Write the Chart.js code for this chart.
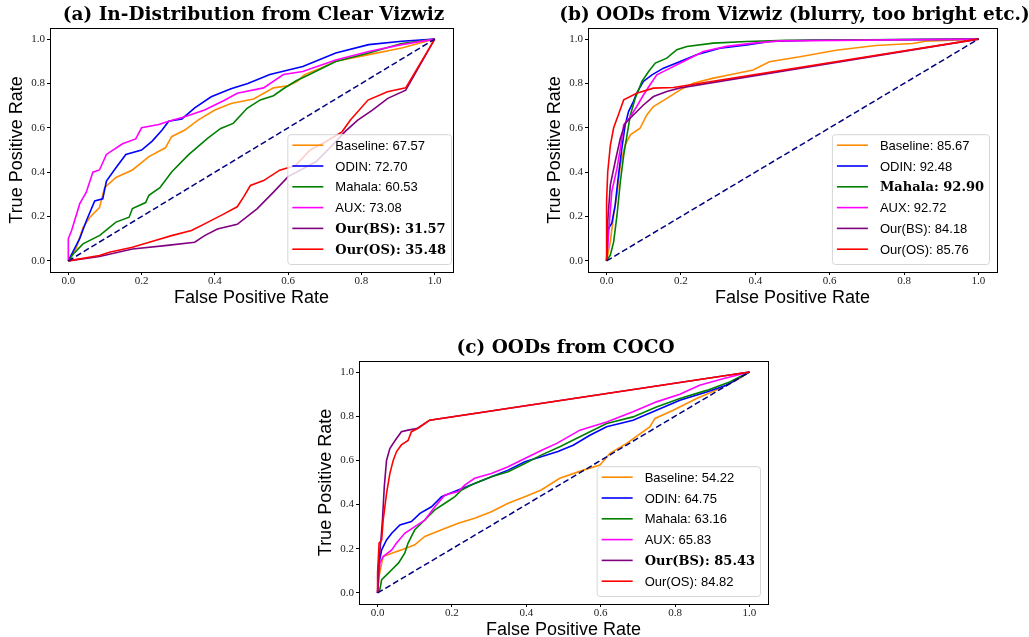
<!DOCTYPE html>
<html lang="en">
<head>
  <meta charset="UTF-8" />
  <title>ROC curves</title>
  <script src="https://cdn.jsdelivr.net/npm/chart.js"></script>
  <style>
    html, body { margin: 0; padding: 0; background: #fff; overflow: hidden; }
    body { width: 1029px; height: 637px; position: relative; }
    .panel { position: absolute; }
  </style>
</head>
<body>
  <div class="panel" style="left:0;top:0;width:470px;height:310px"><canvas id="chartA"></canvas></div>
  <div class="panel" style="left:538px;top:0;width:491px;height:310px"><canvas id="chartB"></canvas></div>
  <div class="panel" style="left:309px;top:333px;width:480px;height:309px"><canvas id="chartC"></canvas></div>

<script>
  // tick values (both axes)
  const axisTicks = [0, 0.2, 0.4, 0.6, 0.8, 1.0];

  const methodNames = ["Baseline", "ODIN", "Mahala", "AUX", "Our(BS)", "Our(OS)"];
  const methodColors = ["#ff8c00", "#0000ff", "#008000", "#ff00ff", "#800080", "#ff0000"];

  // AUROC scores shown in each legend
  const scoresA = ["67.57", "72.70", "60.53", "73.08", "31.57", "35.48"];
  const scoresB = ["85.67", "92.48", "92.90", "92.72", "84.18", "85.76"];
  const scoresC = ["54.22", "64.75", "63.16", "65.83", "85.43", "84.82"];
  const boldA = [4, 5];
  const boldB = [2];
  const boldC = [4];

  const chance = [[0, 0], [1, 1]];

  // (a) In-Distribution from Clear Vizwiz  -- [fpr, tpr]
  const a_baseline = [[0,0],[0.022,0.06],[0.04,0.15],[0.059,0.197],[0.085,0.24],[0.099,0.33],[0.13,0.376],[0.175,0.41],[0.22,0.47],[0.265,0.51],[0.282,0.56],[0.318,0.59],[0.354,0.635],[0.4,0.68],[0.444,0.71],[0.506,0.73],[0.56,0.78],[0.6,0.79],[0.625,0.81],[0.645,0.84],[0.69,0.87],[0.73,0.9],[0.82,0.93],[0.91,0.96],[1,1]];
  const a_odin = [[0,0],[0.009,0.03],[0.031,0.1],[0.049,0.18],[0.072,0.27],[0.094,0.28],[0.104,0.36],[0.13,0.42],[0.157,0.48],[0.2,0.5],[0.229,0.54],[0.256,0.59],[0.274,0.63],[0.31,0.64],[0.345,0.69],[0.39,0.74],[0.444,0.776],[0.49,0.8],[0.55,0.84],[0.64,0.876],[0.73,0.937],[0.82,0.975],[0.91,0.99],[1,1]];
  const a_mahala = [[0,0],[0.013,0.03],[0.04,0.077],[0.086,0.115],[0.13,0.175],[0.166,0.197],[0.175,0.236],[0.211,0.263],[0.22,0.296],[0.25,0.33],[0.282,0.401],[0.327,0.477],[0.38,0.552],[0.416,0.597],[0.45,0.62],[0.488,0.688],[0.524,0.726],[0.56,0.745],[0.587,0.776],[0.622,0.812],[0.658,0.84],[0.73,0.899],[0.82,0.937],[0.91,0.98],[1,1]];
  const a_aux = [[0,0],[0,0.1],[0.009,0.137],[0.031,0.257],[0.049,0.31],[0.067,0.4],[0.085,0.41],[0.104,0.48],[0.148,0.528],[0.184,0.55],[0.2,0.6],[0.247,0.615],[0.274,0.63],[0.318,0.65],[0.372,0.68],[0.425,0.723],[0.461,0.756],[0.533,0.78],[0.587,0.84],[0.64,0.854],[0.73,0.906],[0.82,0.944],[0.91,0.975],[1,1]];
  const a_bs = [[0,0],[0.085,0.02],[0.175,0.054],[0.264,0.069],[0.345,0.084],[0.372,0.114],[0.407,0.144],[0.461,0.165],[0.515,0.235],[0.56,0.31],[0.6,0.38],[0.676,0.447],[0.72,0.52],[0.756,0.584],[0.79,0.635],[0.83,0.68],[0.872,0.733],[0.921,0.77],[1,1]];
  const a_os = [[0,0],[0.085,0.024],[0.112,0.039],[0.175,0.062],[0.237,0.092],[0.282,0.114],[0.336,0.137],[0.372,0.167],[0.425,0.212],[0.461,0.244],[0.479,0.29],[0.497,0.34],[0.533,0.362],[0.577,0.409],[0.62,0.43],[0.66,0.5],[0.7,0.535],[0.747,0.582],[0.77,0.635],[0.818,0.725],[0.871,0.763],[0.921,0.78],[1,1]];

  // (b) OODs from Vizwiz
  const b_baseline = [[0,0],[0.01,0.086],[0.019,0.206],[0.028,0.3],[0.037,0.432],[0.05,0.523],[0.064,0.568],[0.09,0.598],[0.108,0.658],[0.126,0.696],[0.162,0.733],[0.198,0.771],[0.233,0.801],[0.287,0.824],[0.332,0.839],[0.394,0.861],[0.438,0.898],[0.52,0.92],[0.617,0.95],[0.724,0.971],[0.823,0.98],[0.858,0.99],[1,1]];
  const b_odin = [[0,0],[0.005,0.146],[0.014,0.17],[0.023,0.25],[0.032,0.387],[0.041,0.507],[0.05,0.613],[0.059,0.673],[0.072,0.718],[0.081,0.756],[0.099,0.809],[0.122,0.839],[0.153,0.869],[0.198,0.899],[0.242,0.929],[0.305,0.959],[0.377,0.974],[0.439,0.989],[0.55,0.995],[1,1]];
  const b_mahala = [[0,0],[0.01,0.026],[0.019,0.086],[0.028,0.206],[0.037,0.357],[0.046,0.477],[0.055,0.568],[0.064,0.658],[0.077,0.733],[0.095,0.809],[0.113,0.854],[0.131,0.892],[0.162,0.914],[0.189,0.952],[0.216,0.967],[0.287,0.982],[0.377,0.989],[0.484,0.994],[1,1]];
  const b_aux = [[0,0],[0.005,0.116],[0.014,0.313],[0.028,0.417],[0.037,0.507],[0.046,0.613],[0.064,0.65],[0.081,0.696],[0.099,0.748],[0.117,0.794],[0.135,0.839],[0.171,0.869],[0.216,0.907],[0.26,0.944],[0.323,0.967],[0.394,0.982],[0.466,0.992],[1,1]];
  const b_bs = [[0,0],[0.003,0.176],[0.01,0.342],[0.023,0.447],[0.037,0.553],[0.05,0.62],[0.072,0.658],[0.099,0.703],[0.126,0.741],[0.162,0.764],[0.198,0.78],[1,1]];
  const b_os = [[0,0],[0,0.267],[0.003,0.4],[0.01,0.52],[0.019,0.6],[0.032,0.66],[0.046,0.726],[0.081,0.756],[0.126,0.779],[0.18,0.782],[1,1]];

  // (c) OODs from COCO
  const c_baseline = [[0,0],[0.004,0.075],[0.011,0.135],[0.015,0.165],[0.038,0.18],[0.064,0.195],[0.1,0.218],[0.127,0.256],[0.172,0.286],[0.217,0.316],[0.261,0.338],[0.306,0.368],[0.351,0.406],[0.396,0.436],[0.44,0.466],[0.49,0.519],[0.553,0.556],[0.598,0.579],[0.625,0.632],[0.67,0.677],[0.732,0.752],[0.746,0.79],[0.795,0.827],[0.858,0.88],[0.92,0.925],[0.965,0.963],[1,1]];
  const c_odin = [[0,0],[0.002,0.12],[0.011,0.195],[0.024,0.24],[0.038,0.27],[0.06,0.308],[0.091,0.323],[0.114,0.36],[0.145,0.39],[0.172,0.436],[0.217,0.466],[0.261,0.496],[0.306,0.526],[0.351,0.556],[0.396,0.594],[0.44,0.617],[0.485,0.64],[0.526,0.669],[0.571,0.714],[0.616,0.752],[0.687,0.782],[0.75,0.827],[0.813,0.872],[0.885,0.91],[0.938,0.94],[1,1]];
  const c_mahala = [[0,0],[0.006,0.015],[0.011,0.06],[0.029,0.09],[0.038,0.105],[0.056,0.135],[0.073,0.18],[0.082,0.226],[0.1,0.286],[0.127,0.33],[0.154,0.376],[0.181,0.406],[0.208,0.436],[0.226,0.466],[0.261,0.496],[0.306,0.526],[0.351,0.549],[0.396,0.586],[0.44,0.624],[0.49,0.662],[0.544,0.707],[0.616,0.767],[0.687,0.797],[0.75,0.842],[0.813,0.88],[0.885,0.917],[0.947,0.955],[1,1]];
  const c_aux = [[0,0],[0.006,0.135],[0.015,0.165],[0.038,0.195],[0.051,0.226],[0.073,0.27],[0.1,0.3],[0.127,0.33],[0.154,0.39],[0.181,0.444],[0.217,0.459],[0.235,0.489],[0.261,0.519],[0.306,0.541],[0.351,0.571],[0.396,0.609],[0.44,0.645],[0.482,0.677],[0.544,0.737],[0.616,0.774],[0.687,0.82],[0.75,0.865],[0.813,0.9],[0.866,0.94],[0.929,0.97],[1,1]];
  const c_bs = [[0,0],[0.004,0.15],[0.009,0.24],[0.013,0.33],[0.018,0.48],[0.024,0.6],[0.033,0.654],[0.047,0.69],[0.064,0.73],[0.082,0.737],[0.105,0.744],[0.12,0.76],[0.14,0.782],[1,1]];
  const c_os = [[0,0],[0,0.09],[0.004,0.226],[0.011,0.24],[0.015,0.33],[0.024,0.45],[0.033,0.54],[0.042,0.6],[0.051,0.64],[0.064,0.67],[0.082,0.69],[0.091,0.73],[0.109,0.745],[0.127,0.767],[0.14,0.782],[1,1]];

  const SANS = '"Liberation Sans", Arial, sans-serif';
  const SERIF = '"Liberation Serif", "Times New Roman", serif';
  const BOLD_SERIF = '"DejaVu Serif", serif';

  // frame on all four sides + panel title
  const framePlugin = {
    id: "frame",
    afterDraw(chart, args, opts) {
      const { ctx, chartArea: a } = chart;
      ctx.save();
      ctx.strokeStyle = "#000";
      ctx.lineWidth = 1;
      ctx.strokeRect(Math.round(a.left) + 0.5, Math.round(a.top) + 0.5,
        Math.round(a.right - a.left), Math.round(a.bottom - a.top));
      ctx.fillStyle = "#000";
      ctx.font = "bold 18.5px " + BOLD_SERIF;
      ctx.textAlign = "center";
      ctx.textBaseline = "middle";
      ctx.fillText(opts.text, (a.left + a.right) / 2 + 2, a.top - 13);
      ctx.restore();
    }
  };

  // matplotlib-like legend box in the lower right corner
  const boxLegend = {
    id: "boxLegend",
    afterDraw(chart, args, opts) {
      const { ctx, chartArea: a } = chart;
      const rowH = 20.8;
      const fonts = methodNames.map((_, i) =>
        opts.bold.includes(i) ? "bold 13px " + BOLD_SERIF : "13px " + SANS);
      const texts = methodNames.map((n, i) => n + ": " + opts.scores[i]);
      ctx.save();
      let maxW = 0;
      texts.forEach((t, i) => { ctx.font = fonts[i]; maxW = Math.max(maxW, ctx.measureText(t).width); });
      const w = 5 + 31 + 12 + maxW + 5;
      const h = rowH * texts.length + 5;
      const x = a.right - opts.padRight - w;
      const y = a.bottom - opts.padBottom - h;
      ctx.beginPath();
      ctx.roundRect(x + 0.5, y + 0.5, w, h, 3);
      ctx.fillStyle = "rgba(255,255,255,0.8)";
      ctx.fill();
      ctx.strokeStyle = "#d6d6d6";
      ctx.lineWidth = 1;
      ctx.stroke();
      texts.forEach((t, i) => {
        const cy = y + 11 + i * rowH;
        ctx.strokeStyle = methodColors[i];
        ctx.lineWidth = 1.6;
        ctx.beginPath();
        ctx.moveTo(x + 5, cy);
        ctx.lineTo(x + 36, cy);
        ctx.stroke();
        ctx.font = fonts[i];
        ctx.fillStyle = "#000";
        ctx.textAlign = "left";
        ctx.textBaseline = "middle";
        ctx.fillText(t, x + 48, cy + 1);
      });
      ctx.restore();
    }
  };

  function makeChart(id, title, series, scores, bold, padRight, legendPadRight) {
    const datasets = series.map((pts, i) => ({
      label: methodNames[i],
      data: pts,
      borderColor: methodColors[i],
      borderWidth: 1.6,
      pointRadius: 0,
      tension: 0,
      fill: false,
      order: 10 - i
    }));
    datasets.push({
      label: "chance",
      data: chance,
      borderColor: "#000080",
      borderWidth: 1.5,
      borderDash: [6, 3],
      pointRadius: 0,
      fill: false,
      order: 1
    });

    const tickFont = { family: SERIF, size: 11 };
    const titleFont = { family: SANS, size: 18, lineHeight: 1.2 };

    return new Chart(document.getElementById(id), {
      type: "line",
      data: { datasets },
      options: {
        responsive: true,
        maintainAspectRatio: false,
        animation: false,
        layout: { padding: { top: 28, right: padRight, left: 0, bottom: 0 } },
        plugins: {
          legend: { display: false },
          tooltip: { enabled: false },
          frame: { text: title },
          boxLegend: { scores, bold, padRight: legendPadRight, padBottom: 8 }
        },
        scales: {
          x: {
            type: "linear",
            min: -0.05,
            max: 1.05,
            afterBuildTicks: s => { s.ticks = axisTicks.map(v => ({ value: v })); },
            afterFit: s => { s.height = 38; },
            ticks: { callback: v => v.toFixed(1), font: tickFont, color: "#222", padding: 0, maxRotation: 0, autoSkip: false },
            grid: { drawOnChartArea: false, tickLength: 3, tickColor: "#000" },
            border: { color: "#000" },
            title: { display: true, text: "False Positive Rate", font: titleFont, color: "#000", padding: { top: 0, bottom: 1 } }
          },
          y: {
            type: "linear",
            min: -0.05,
            max: 1.05,
            afterBuildTicks: s => { s.ticks = axisTicks.map(v => ({ value: v })); },
            afterFit: s => { s.width = 50; },
            ticks: { callback: v => v.toFixed(1), font: tickFont, color: "#222", padding: 2, autoSkip: false },
            grid: { drawOnChartArea: false, tickLength: 3, tickColor: "#000" },
            border: { color: "#000" },
            title: { display: true, text: "True Positive Rate", font: titleFont, color: "#000", padding: { top: 6, bottom: 0 } }
          }
        }
      },
      plugins: [framePlugin, boxLegend]
    });
  }

  makeChart("chartA", "(a) In-Distribution from Clear Vizwiz",
    [a_baseline, a_odin, a_mahala, a_aux, a_bs, a_os], scoresA, boldA, 17, 2);
  makeChart("chartB", "(b) OODs from Vizwiz (blurry, too bright etc.)",
    [b_baseline, b_odin, b_mahala, b_aux, b_bs, b_os], scoresB, boldB, 32, 8);
  makeChart("chartC", "(c) OODs from COCO",
    [c_baseline, c_odin, c_mahala, c_aux, c_bs, c_os], scoresC, boldC, 21, 8);
</script>
</body>
</html>
